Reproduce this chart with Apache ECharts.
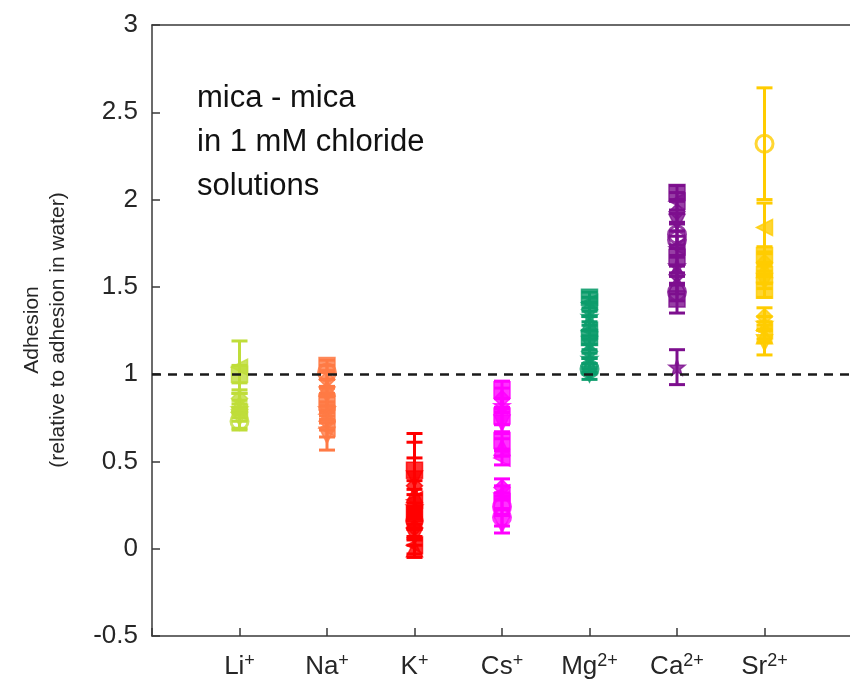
<!DOCTYPE html>
<html>
<head>
<meta charset="utf-8">
<script src="https://cdn.jsdelivr.net/npm/echarts@6/dist/echarts.min.js"></script>
<style>
  html, body { margin: 0; padding: 0; background: #fff; overflow: hidden; }
  #chart { width: 850px; height: 690px; }
</style>
</head>
<body>
<div id="chart"></div>
<script>
// Ion categories (x positions 1..7) and their charge superscripts
const ionNames = ['Li', 'Na', 'K', 'Cs', 'Mg', 'Ca', 'Sr'];
const ionCharges = ['+', '+', '+', '+', '2+', '2+', '2+'];

// Relative adhesion (mean) and error for each measurement, per ion
const liMean = [1.04, 1.00, 0.86, 0.83, 0.80, 0.78, 0.75, 0.73];
const liErr  = [0.15, 0.05, 0.05, 0.06, 0.05, 0.05, 0.06, 0.05];
const naMean = [1.05, 1.01, 0.97, 0.92, 0.88, 0.84, 0.80, 0.77, 0.73, 0.69, 0.65];
const naErr  = [0.03, 0.04, 0.04, 0.05, 0.04, 0.05, 0.04, 0.05, 0.05, 0.05, 0.085];
const kMean  = [0.45, 0.40, 0.36, 0.31, 0.28, 0.24, 0.20, 0.16, 0.12, 0.07, 0.02, 0.00];
const kErr   = [0.21, 0.21, 0.16, 0.08, 0.06, 0.07, 0.06, 0.05, 0.06, 0.05, 0.05, 0.05];
const csMean = [0.91, 0.86, 0.82, 0.76, 0.72, 0.62, 0.58, 0.52, 0.35, 0.32, 0.27, 0.24, 0.18, 0.14];
const csErr  = [0.05, 0.06, 0.04, 0.05, 0.06, 0.05, 0.05, 0.04, 0.05, 0.04, 0.05, 0.04, 0.05, 0.05];
const mgMean = [1.44, 1.41, 1.37, 1.33, 1.29, 1.25, 1.21, 1.17, 1.13, 1.09, 1.05, 1.03, 1.00];
const mgErr  = [0.03, 0.03, 0.04, 0.03, 0.04, 0.03, 0.04, 0.03, 0.04, 0.03, 0.04, 0.03, 0.03];
const caMean = [2.04, 1.99, 1.93, 1.87, 1.80, 1.77, 1.73, 1.67, 1.62, 1.57, 1.52, 1.47, 1.43, 1.04];
const caErr  = [0.04, 0.05, 0.06, 0.05, 0.06, 0.05, 0.06, 0.05, 0.06, 0.05, 0.06, 0.05, 0.08, 0.10];
const srMean = [2.32, 1.84, 1.68, 1.64, 1.60, 1.57, 1.53, 1.48, 1.33, 1.29, 1.25, 1.22, 1.18];
const srErr  = [0.32, 0.14, 0.05, 0.05, 0.04, 0.05, 0.04, 0.04, 0.05, 0.04, 0.05, 0.04, 0.07];

// Y-axis tick values
const yTicks = [-0.5, 0, 0.5, 1, 1.5, 2, 2.5, 3];
// Reference level: adhesion in pure water
const waterLevel = 1;

// ---- styling ----
const ionColors = ['#bfdd3a', '#ff7a45', '#ff0000', '#ff00ff', '#0c9c6c', '#7d0f8e', '#ffcc00'];
const ionMarkers = [
  ['<', 's', 'd', '^', '*', '<', 'v', 'o'],
  ['s', 'o', 'd', '^', 'v', 's', '*', '<', 'd', '<', 'v'],
  ['s', 'v', 'd', '^', '<', '*', 's', 'O', 'd', 'v', '<', '^'],
  ['s', 'd', '*', 's', 'v', 's', '^', '<', 'd', '<', 's', 'o', 'o', 'v'],
  ['s', '<', 'd', '*', '^', '<', 's', 'v', 'd', '*', '^', 'o', 'v'],
  ['s', '<', 'd', 'v', 'o', 'o', '<', 's', '*', 'd', '^', 'o', 's', '*'],
  ['o', '<', 's', 'd', '^', 's', 'v', 's', 'd', '*', '<', '^', 'v']
];
const symbolPaths = {
  'o': 'circle',
  'O': 'circle',
  's': 'rect',
  'd': 'diamond',
  '^': 'triangle',
  'v': 'path://M0,0L10,0L5,9Z',
  '<': 'path://M0,5L9,0L9,10Z',
  '*': 'path://M5,0L6.2,3.6L10,3.6L7,5.9L8.1,9.5L5,7.3L1.9,9.5L3,5.9L0,3.6L3.8,3.6Z'
};

const means = [liMean, naMean, kMean, csMean, mgMean, caMean, srMean];
const errs = [liErr, naErr, kErr, csErr, mgErr, caErr, srErr];

const FONT = '"Liberation Sans", Arial, Helvetica, sans-serif';
const AXIS_COLOR = '#3a3a3a';
const series = [];

ionNames.forEach(function (name, i) {
  const xPos = i + 1;
  const color = ionColors[i];
  // error bars
  series.push({
    type: 'custom',
    name: name + ' error',
    silent: true,
    z: 2,
    itemStyle: { color: color },
    encode: { x: 0, y: [1, 2] },
    data: means[i].map(function (m, k) { return [xPos, m - errs[i][k], m + errs[i][k]]; }),
    renderItem: function (params, api) {
      const x = api.value(0);
      const lo = api.coord([x, api.value(1)]);
      const hi = api.coord([x, api.value(2)]);
      const half = 8;
      const st = { stroke: color, lineWidth: 3 };
      return {
        type: 'group',
        children: [
          { type: 'line', shape: { x1: lo[0], y1: lo[1], x2: hi[0], y2: hi[1] }, style: st },
          { type: 'line', shape: { x1: lo[0] - half, y1: lo[1], x2: lo[0] + half, y2: lo[1] }, style: st },
          { type: 'line', shape: { x1: hi[0] - half, y1: hi[1], x2: hi[0] + half, y2: hi[1] }, style: st }
        ]
      };
    }
  });
  // markers
  series.push({
    type: 'scatter',
    name: name,
    silent: true,
    z: 3,
    data: means[i].map(function (m, k) {
      const mk = ionMarkers[i][k % ionMarkers[i].length];
      const hollow = mk === 'o';
      return {
        value: [xPos, m],
        symbol: symbolPaths[mk],
        symbolSize: mk === 'o' || mk === 'O' ? 17 : 16,
        itemStyle: hollow
          ? { color: 'rgba(255,255,255,0)', borderColor: color, borderWidth: 3 }
          : { color: color, borderColor: color, borderWidth: 1.5 }
      };
    })
  });
});

// dashed reference line at water level
series.push({
  type: 'line',
  data: [],
  silent: true,
  markLine: {
    silent: true,
    symbol: 'none',
    label: { show: false },
    lineStyle: { color: '#1a1a1a', width: 2.5, type: [9, 7] },
    data: [{ yAxis: waterLevel }]
  }
});

const chart = echarts.init(document.getElementById('chart'), null, { renderer: 'canvas' });
chart.setOption({
  animation: false,
  backgroundColor: '#fff',
  grid: { left: 152, top: 25, width: 700, height: 611, containLabel: false, outerBoundsMode: 'none' },
  xAxis: [
    {
      type: 'value',
      min: 0, max: 8, interval: 1,
      splitLine: { show: false },
      axisLine: { onZero: false, lineStyle: { color: AXIS_COLOR, width: 1.5 } },
      axisTick: { inside: true, length: 8, lineStyle: { color: AXIS_COLOR, width: 1.5 } },
      axisLabel: {
        margin: 16,
        color: '#262626',
        fontFamily: FONT,
        formatter: function (v) {
          const i = Math.round(v) - 1;
          if (i < 0 || i >= ionNames.length) return '';
          return ionNames[i] + '{sup|' + ionCharges[i] + '}';
        },
        rich: {
          sup: { fontSize: 18, verticalAlign: 'top', color: '#262626', fontFamily: FONT }
        },
        fontSize: 26,
        lineHeight: 30
      }
    },
    {
      type: 'value',
      position: 'top',
      min: 0, max: 8,
      splitLine: { show: false },
      axisLine: { onZero: false, lineStyle: { color: AXIS_COLOR, width: 1.5 } },
      axisTick: { show: false },
      axisLabel: { show: false }
    }
  ],
  yAxis: {
    type: 'value',
    min: yTicks[0], max: yTicks[yTicks.length - 1], interval: 0.5,
    splitLine: { show: false },
    axisLine: { show: true, onZero: false, lineStyle: { color: AXIS_COLOR, width: 1.5 } },
    axisTick: { show: true, inside: true, length: 8, lineStyle: { color: AXIS_COLOR, width: 1.5 } },
    axisLabel: { margin: 14, fontSize: 26, color: '#262626', fontFamily: FONT }
  },
  graphic: [
    {
      type: 'text',
      x: 45, y: 330,
      rotation: Math.PI / 2,
      style: {
        text: 'Adhesion\n(relative to adhesion in water)',
        font: '21px ' + FONT,
        fill: '#262626',
        align: 'center',
        verticalAlign: 'middle',
        lineHeight: 26
      }
    },
    {
      type: 'text',
      left: 197, top: 76,
      style: {
        text: 'mica - mica\nin 1 mM chloride\nsolutions',
        font: '31px ' + FONT,
        fill: '#111',
        lineHeight: 44
      }
    }
  ],
  series: series
});
</script>
</body>
</html>
